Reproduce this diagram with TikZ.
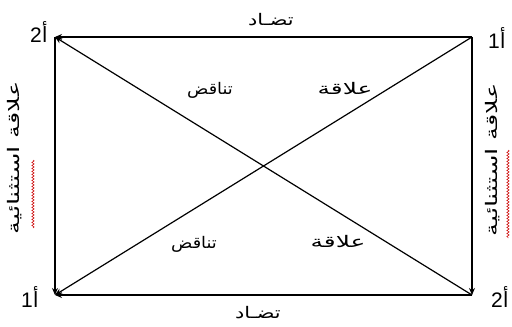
\documentclass[tikz,border=0pt]{standalone}
\usepackage{fontspec}
\setmainfont{Liberation Sans}
\newfontfamily\arabicfont[Script=Arabic]{DejaVu Sans}
\TeXXeTstate=1
\usetikzlibrary{arrows.meta,decorations.pathmorphing}
\begin{document}
\begin{tikzpicture}[x=1pt,y=-1pt,
  edge/.style={line width=1.2pt,-{Stealth[length=7pt,width=6pt]}},
  ar/.style={font=\arabicfont\fontsize{16}{18}\selectfont,inner sep=0pt},
  side/.style={font=\arabicfont\fontsize{16}{18}\selectfont,inner sep=0pt},
  corner/.style={font=\fontsize{21}{23}\selectfont,inner sep=0pt},
  squig/.style={red!80!black,line width=0.5pt,decorate,decoration={snake,amplitude=1.2pt,segment length=3pt}}]
\useasboundingbox (0,0) rectangle (512,327);
\fill[white] (0,0) rectangle (512,327);
\coordinate (TL) at (55,37);
\coordinate (TR) at (472,37);
\coordinate (BL) at (55,295);
\coordinate (BR) at (472,295);
\draw[edge] (TR) -- (TL);
\draw[edge] (TL) -- (BL);
\draw[edge] (TR) -- (BR);
\draw[edge] (BR) -- (BL);
\draw[edge] (TR) -- (BL);
\draw[edge] (BR) -- (TL);
\node[corner] (lTL) at (39,32) {2\arabicfont أ};
\node[corner] (lTR) at (497,38) {1\arabicfont أ};
\node[corner] (lBL) at (30,297) {1\arabicfont أ};
\node[corner] (lBR) at (500,297) {2\arabicfont أ};
\node[ar,xscale=1.3] (top) at (271,20) {\beginR تضـاد\endR};
\node[ar,xscale=1.3] (bot) at (258,313) {\beginR تضـاد\endR};
\node[ar,xscale=1.1] (c1) at (210,90) {\beginR تناقض\endR};
\node[ar,xscale=1.55] (c2) at (345,88) {\beginR علاقة\endR};
\node[ar,xscale=1.1] (c3) at (194,244) {\beginR تناقض\endR};
\node[ar,xscale=1.55] (c4) at (338,241) {\beginR علاقة\endR};
\node[side,rotate=90,xscale=1.6] (left) at (15,158) {\beginR علاقة استثنائية\endR};
\node[side,rotate=90,xscale=1.6] (right) at (493,160) {\beginR علاقة استثنائية\endR};
\coordinate (s1) at (33,160);
\coordinate (s2) at (33,228);
\draw[squig] (s1) -- (s2);
\coordinate (s3) at (508,150);
\coordinate (s4) at (508,238);
\draw[squig] (s3) -- (s4);
\end{tikzpicture}
\end{document}
